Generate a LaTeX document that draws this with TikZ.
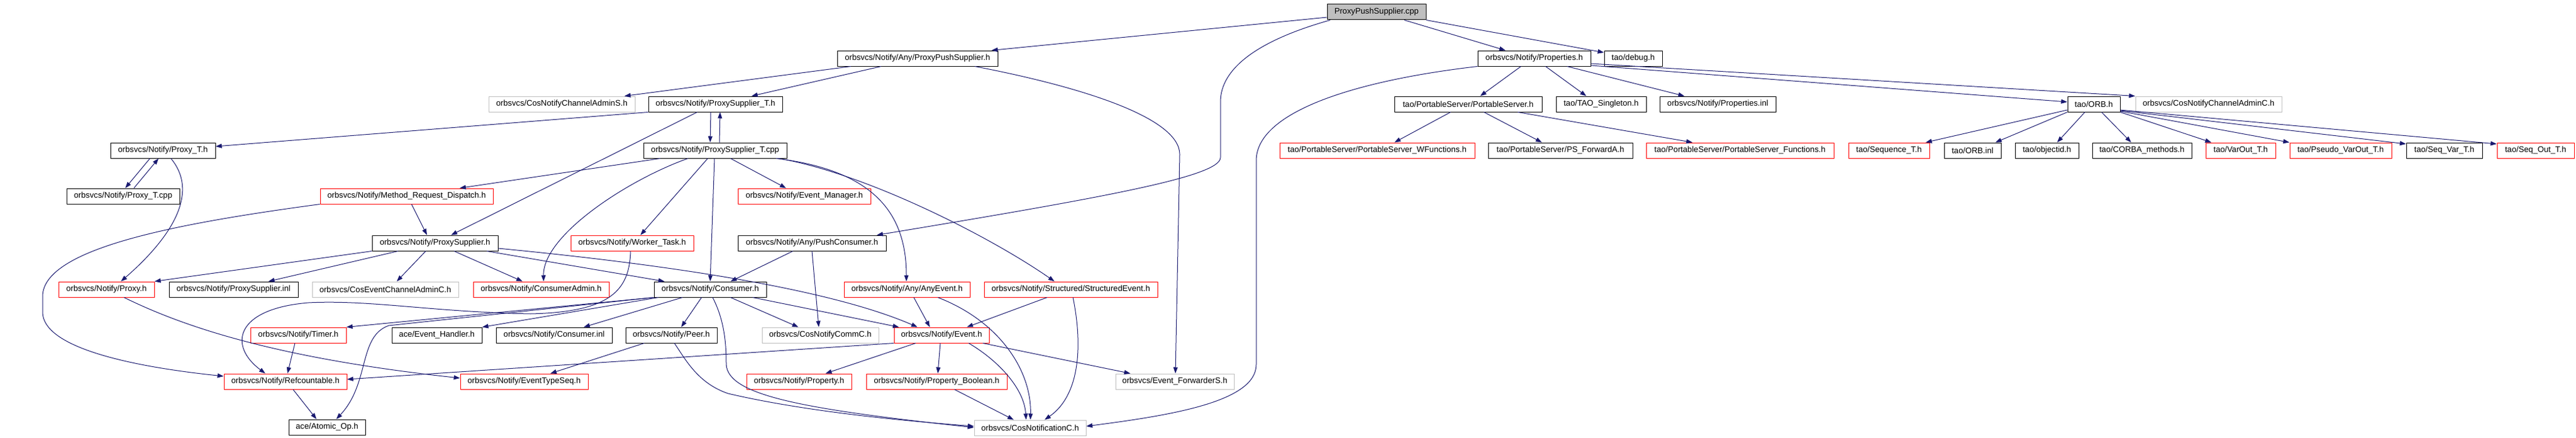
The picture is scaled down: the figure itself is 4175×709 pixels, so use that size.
\documentclass[tikz,border=0pt]{standalone}
\usepackage{fontspec}
\setmainfont{Liberation Sans}
\usetikzlibrary{arrows.meta}
\definecolor{edgeblue}{RGB}{25,25,112}
\definecolor{boxgray}{RGB}{191,191,191}
\newcommand{\dxfont}{\fontsize{13.2}{15}\selectfont}
\newcommand{\bx}[7]{%
  \pgfmathsetmacro\bxw{#4-#3}%
  \pgfmathsetmacro\bxh{#6-#5}%
  \node[#2,minimum width=\bxw pt,minimum height=\bxh pt] (#1) at ({(#3+#4)/2},{(#5+#6)/2}) {#7};}
\tikzset{
  nb/.style={draw=black,fill=white,inner sep=0pt,font=\dxfont,line width=1pt,text=black},
  nr/.style={nb,draw=red},
  ng/.style={nb,draw=boxgray},
  nroot/.style={nb,fill=boxgray},
  ed/.style={draw=edgeblue,line width=1pt,-{Triangle[length=10pt,width=7pt]}},
}
\begin{document}
\begin{tikzpicture}[x=1pt,y=-1pt]
\useasboundingbox (0,0) rectangle (4175,709);
\fill[white] (0,0) rectangle (4175,709);
% row 0
\bx{root}{nroot}{2151}{2311}{7}{32}{ProxyPushSupplier.cpp}
% row 1
\bx{anypps}{nb}{1357}{1617}{82}{107}{orbsvcs/Notify/Any/ProxyPushSupplier.h}
\bx{props}{nb}{2395}{2578}{82}{107}{orbsvcs/Notify/Properties.h}
\bx{debug}{nb}{2600}{2694}{82}{107}{tao/debug.h}
% row 2
\bx{cncas}{ng}{792}{1029}{156}{181}{orbsvcs/CosNotifyChannelAdminS.h}
\bx{psth}{nb}{1051}{1268}{156}{181}{orbsvcs/Notify/ProxySupplier\_T.h}
\bx{ps}{nb}{2260}{2499}{156}{181}{tao/PortableServer/PortableServer.h}
\bx{singleton}{nb}{2522}{2668}{156}{181}{tao/TAO\_Singleton.h}
\bx{propsinl}{nb}{2690}{2878}{156}{181}{orbsvcs/Notify/Properties.inl}
\bx{orb}{nb}{3351}{3436}{156}{181}{tao/ORB.h}
\bx{cncac}{ng}{3461}{3698}{156}{181}{orbsvcs/CosNotifyChannelAdminC.h}
% row 3
\bx{proxyth}{nb}{179}{349}{231}{256}{orbsvcs/Notify/Proxy\_T.h}
\bx{pstcpp}{nb}{1043}{1275}{231}{256}{orbsvcs/Notify/ProxySupplier\_T.cpp}
\bx{pswf}{nr}{2074}{2390}{231}{256}{tao/PortableServer/PortableServer\_WFunctions.h}
\bx{psfa}{nb}{2412}{2646}{231}{256}{tao/PortableServer/PS\_ForwardA.h}
\bx{psf}{nr}{2668}{2972}{231}{256}{tao/PortableServer/PortableServer\_Functions.h}
\bx{seqt}{nr}{2996}{3127}{231}{256}{tao/Sequence\_T.h}
\bx{orbinl}{nb}{3151}{3243}{231}{256}{tao/ORB.inl}
\bx{objid}{nb}{3266}{3369}{231}{256}{tao/objectid.h}
\bx{corbam}{nb}{3391}{3552}{231}{256}{tao/CORBA\_methods.h}
\bx{varout}{nr}{3575}{3688}{231}{256}{tao/VarOut\_T.h}
\bx{pvarout}{nr}{3711}{3876}{231}{256}{tao/Pseudo\_VarOut\_T.h}
\bx{seqvar}{nb}{3900}{4023}{231}{256}{tao/Seq\_Var\_T.h}
\bx{seqout}{nr}{4047}{4172}{231}{256}{tao/Seq\_Out\_T.h}
% row 4
\bx{proxytcpp}{nb}{108}{291}{305}{330}{orbsvcs/Notify/Proxy\_T.cpp}
\bx{mrd}{nr}{519}{799}{305}{330}{orbsvcs/Notify/Method\_Request\_Dispatch.h}
\bx{evm}{nr}{1196}{1411}{305}{330}{orbsvcs/Notify/Event\_Manager.h}
% row 5
\bx{psh}{nb}{603}{807}{381}{406}{orbsvcs/Notify/ProxySupplier.h}
\bx{wt}{nr}{925}{1124}{381}{406}{orbsvcs/Notify/Worker\_Task.h}
\bx{pushc}{nb}{1196}{1436}{381}{406}{orbsvcs/Notify/Any/PushConsumer.h}
% row 6
\bx{proxyh}{nr}{95}{250}{456}{481}{orbsvcs/Notify/Proxy.h}
\bx{psinl}{nb}{274}{483}{456}{481}{orbsvcs/Notify/ProxySupplier.inl}
\bx{cecac}{ng}{506}{743}{456}{481}{orbsvcs/CosEventChannelAdminC.h}
\bx{cadmin}{nr}{767}{987}{456}{481}{orbsvcs/Notify/ConsumerAdmin.h}
\bx{cons}{nb}{1060}{1242}{456}{481}{orbsvcs/Notify/Consumer.h}
\bx{anyev}{nr}{1368}{1572}{456}{481}{orbsvcs/Notify/Any/AnyEvent.h}
\bx{strev}{nr}{1595}{1876}{456}{481}{orbsvcs/Notify/Structured/StructuredEvent.h}
% row 7
\bx{timer}{nr}{406}{561}{530}{555}{orbsvcs/Notify/Timer.h}
\bx{evh}{nb}{635}{781}{530}{555}{ace/Event\_Handler.h}
\bx{consinl}{nb}{804}{992}{530}{555}{orbsvcs/Notify/Consumer.inl}
\bx{peer}{nb}{1014}{1162}{530}{555}{orbsvcs/Notify/Peer.h}
\bx{cncommc}{ng}{1235}{1424}{530}{555}{orbsvcs/CosNotifyCommC.h}
\bx{event}{nr}{1449}{1603}{530}{555}{orbsvcs/Notify/Event.h}
% row 8
\bx{refc}{nr}{363}{562}{605}{630}{orbsvcs/Notify/Refcountable.h}
\bx{ets}{nr}{746}{953}{605}{630}{orbsvcs/Notify/EventTypeSeq.h}
\bx{prop}{nr}{1210}{1380}{605}{630}{orbsvcs/Notify/Property.h}
\bx{propb}{nr}{1404}{1632}{605}{630}{orbsvcs/Notify/Property\_Boolean.h}
\bx{evfwd}{ng}{1808}{2000}{605}{630}{orbsvcs/Event\_ForwarderS.h}
% row 9
\bx{atomic}{nb}{468}{592}{679}{704}{ace/Atomic\_Op.h}
\bx{cnc}{ng}{1579}{1760}{680}{705}{orbsvcs/CosNotificationC.h}

% ---------- edges ----------
\draw[ed] (root.west |- 0,28) -- (anypps.north -| 1607,0);
\draw[ed] (root.south -| 2156,0) .. controls (2040,65) and (1978,110) .. (1978,165) -- (1978,255) .. controls (1978,285) and (1800,318) .. (pushc.north -| 1421,0);
\draw[ed] (root.south -| 2276,0) -- (props.north -| 2440,0);
\draw[ed] (root.south east) -- (debug.west |- 0,85);
\draw[ed] (anypps.south -| 1379,0) -- (cncas.north -| 1012,0);
\draw[ed] (anypps.south -| 1428,0) -- (psth.north -| 1218,0);
\draw[ed] (anypps.south -| 1580,0) .. controls (1750,140) and (1912,190) .. (1912,250) -- (evfwd.north -| 1905,0);
\draw[ed] (psth.south west) -- (proxyth.east |- 0,237);
\draw[ed] (psth.south -| 1152,0) -- (pstcpp.north -| 1151,0);
\draw[ed] (pstcpp.north -| 1166,0) -- (psth.south -| 1167,0);
\draw[ed] (psth.south -| 1130,0) -- (psh.north -| 731,0);
\draw[ed] (pstcpp.south -| 1070,0) -- (mrd.north -| 745,0);
\draw[ed] (pstcpp.south -| 1115,0) .. controls (1020,290) and (880,380) .. (cadmin.north -| 881,0);
\draw[ed] (pstcpp.south -| 1147,0) -- (wt.north -| 1038,0);
\draw[ed] (pstcpp.south -| 1158,0) -- (cons.north -| 1151,0);
\draw[ed] (pstcpp.south -| 1184,0) -- (evm.north -| 1274,0);
\draw[ed] (pstcpp.south -| 1258,0) .. controls (1410,275) and (1469,340) .. (anyev.north -| 1469,0);
\draw[ed] (pstcpp.south -| 1262,0) .. controls (1400,280) and (1600,380) .. (strev.north -| 1709,0);
\draw[ed] (proxyth.south -| 243,0) -- (proxytcpp.north -| 203,0);
\draw[ed] (proxytcpp.north -| 217,0) -- (proxyth.south -| 257,0);
\draw[ed] (proxyth.south -| 277,0) .. controls (330,320) and (260,400) .. (proxyh.north -| 196,0);
\draw[ed] (mrd.south -| 667,0) -- (psh.north -| 692,0);
\draw[ed] (mrd.south west) .. controls (300,360) and (69,400) .. (69,480) -- (69,505) .. controls (69,560) and (200,592) .. (refc.west |- 0,609);
\draw[ed] (psh.south west) -- (proxyh.north east);
\draw[ed] (psh.south -| 645,0) -- (psinl.north -| 435,0);
\draw[ed] (psh.south -| 690,0) -- (cecac.north -| 643,0);
\draw[ed] (psh.south -| 736,0) -- (cadmin.north -| 847,0);
\draw[ed] (psh.south -| 789,0) -- (cons.north -| 1077,0);
\draw[ed] (psh.east |- 0,402) .. controls (1100,430) and (1350,470) .. (event.north -| 1487,0);
\draw[ed] (pushc.south -| 1285,0) -- (cons.north -| 1184,0);
\draw[ed] (pushc.south -| 1316,0) -- (cncommc.north -| 1327,0);
\draw[ed] (wt.south -| 1022,0) .. controls (1020,470) and (990,505) .. (860,508) .. controls (700,505) and (600,485) .. (500,490) .. controls (380,500) and (370,560) .. (refc.north -| 430,0);
\draw[ed] (cons.south west) -- (timer.north east);
\draw[ed] (cons.south -| 1067,0) -- (evh.north east);
\draw[ed] (cons.south west) -- (630,527) .. controls (580,545) and (600,620) .. (atomic.north -| 545,0);
\draw[ed] (cons.south -| 1106,0) -- (consinl.north -| 946,0);
\draw[ed] (cons.south -| 1137,0) -- (peer.north -| 1104,0);
\draw[ed] (cons.south -| 1184,0) -- (cncommc.north -| 1294,0);
\draw[ed] (cons.south -| 1220,0) -- (event.north -| 1457,0);
\draw[ed] (cons.south -| 1155,0) .. controls (1175,520) and (1177,560) .. (1177,590) .. controls (1180,640) and (1300,662) .. (cnc.west |- 0,692);
\draw[ed] (peer.south -| 1044,0) -- (ets.north -| 892,0);
\draw[ed] (peer.south -| 1093,0) .. controls (1110,580) and (1130,620) .. (1180,637) .. controls (1300,665) and (1450,680) .. (cnc.west |- 0,690);
\draw[ed] (timer.south -| 478,0) -- (refc.north -| 466,0);
\draw[ed] (refc.south -| 475,0) -- (atomic.north -| 513,0);
\draw[ed] (proxyh.south -| 201,0) .. controls (300,530) and (450,580) .. (ets.west |- 0,612);
\draw[ed] (event.south west) -- (refc.east |- 0,614);
\draw[ed] (event.south -| 1484,0) -- (prop.north -| 1338,0);
\draw[ed] (event.south -| 1524,0) -- (propb.north -| 1520,0);
\draw[ed] (event.south -| 1593,0) -- (evfwd.north -| 1832,0);
\draw[ed] (event.south -| 1570,0) .. controls (1620,585) and (1660,630) .. (cnc.north -| 1663,0);
\draw[ed] (anyev.south -| 1481,0) -- (event.north -| 1507,0);
\draw[ed] (anyev.south -| 1520,0) .. controls (1620,520) and (1672,600) .. (cnc.north -| 1670,0);
\draw[ed] (strev.south -| 1697,0) -- (event.north -| 1567,0);
\draw[ed] (strev.south -| 1739,0) .. controls (1755,560) and (1750,640) .. (cnc.north -| 1693,0);
\draw[ed] (propb.south -| 1547,0) -- (cnc.north -| 1643,0);
\draw[ed] (props.south west) .. controls (2200,130) and (2036,180) .. (2036,260) -- (2036,590) .. controls (2036,650) and (1900,672) .. (cnc.east |- 0,690);
\draw[ed] (props.south -| 2465,0) -- (ps.north -| 2399,0);
\draw[ed] (props.south -| 2505,0) -- (singleton.north -| 2571,0);
\draw[ed] (props.south -| 2540,0) -- (propsinl.north -| 2730,0);
\draw[ed] (props.east |- 0,106) -- (orb.west |- 0,165);
\draw[ed] (props.east |- 0,103) -- (cncac.north west);
\draw[ed] (ps.south -| 2351,0) -- (pswf.north -| 2260,0);
\draw[ed] (ps.south -| 2405,0) -- (psfa.north -| 2499,0);
\draw[ed] (ps.south -| 2460,0) -- (psf.north -| 2743,0);
\draw[ed] (orb.west |- 0,178) -- (seqt.north -| 3121,0);
\draw[ed] (orb.south west) -- (orbinl.north -| 3234,0);
\draw[ed] (orb.south -| 3379,0) -- (objid.north -| 3334,0);
\draw[ed] (orb.south -| 3406,0) -- (corbam.north -| 3454,0);
\draw[ed] (orb.south east) -- (varout.north -| 3584,0);
\draw[ed] (orb.east |- 0,180) -- (pvarout.north west);
\draw[ed] (orb.east |- 0,179) -- (seqvar.west |- 0,233);
\draw[ed] (orb.east |- 0,178) -- (seqout.west |- 0,233);
\end{tikzpicture}
\end{document}
